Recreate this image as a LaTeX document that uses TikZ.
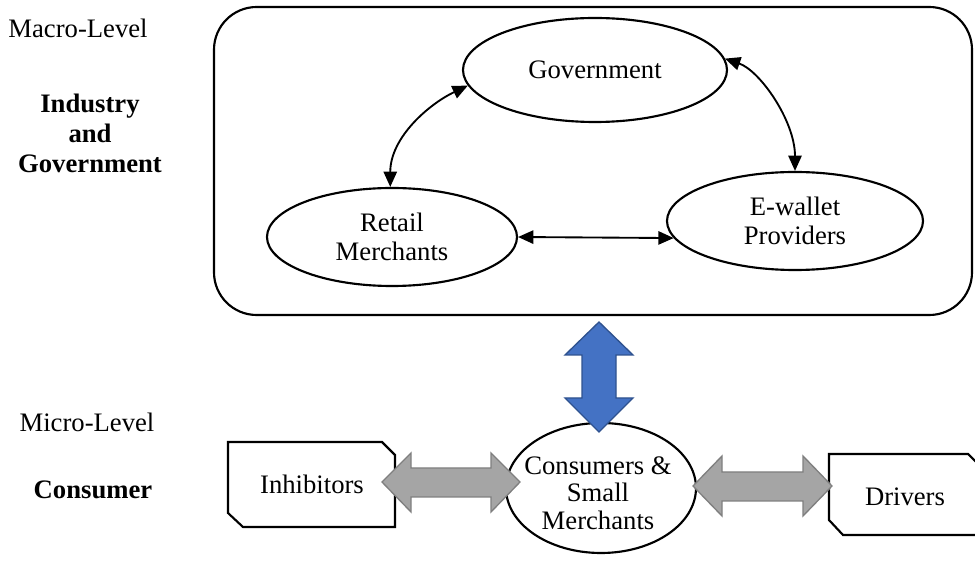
\documentclass[tikz,border=0pt]{standalone}
\usepackage{fontspec}
\setmainfont{Liberation Serif}
\usetikzlibrary{arrows.meta,shapes.geometric}
\definecolor{bluefill}{HTML}{4472C4}
\definecolor{blueline}{HTML}{2F528F}
\definecolor{grayfill}{HTML}{A5A5A5}
\definecolor{grayline}{HTML}{7F7F7F}
\begin{document}
\begin{tikzpicture}[x=0.75pt,y=-0.75pt,
  every node/.style={font=\fontsize{20}{22}\selectfont, align=center, inner sep=0pt},
  ell/.style={ellipse, draw, line width=1.6pt},
  link/.style={line width=1.4pt, {Triangle[length=11.5pt,width=10pt]}-{Triangle[length=11.5pt,width=10pt]}},
  bigblue/.style={fill=bluefill, draw=blueline, line width=1pt, line join=miter},
  biggray/.style={fill=grayfill, draw=grayline, line width=1pt, line join=miter},
  tagbox/.style={draw, line width=1.6pt, line join=miter, fill=white},
  lbl/.style={font=\fontsize{20}{22.5}\selectfont},
  blbl/.style={font=\fontsize{20}{22.5}\selectfont\bfseries}]
\useasboundingbox (0,0) rectangle (975,566);
\clip (0,0) rectangle (975,566);

% macro-level frame
\draw[line width=1.6pt, rounded corners=32pt] (214,7) rectangle (972,315);

% left labels
\node[lbl] (macro) at (78,28) {Macro-Level};
\node[blbl] (ind) at (90,133) {Industry\\and\\Government};
\node[lbl] (micro) at (87,422) {Micro-Level};
\node[blbl] (cons) at (93,490) {Consumer};

% ellipses
\node[ell, minimum width=198pt, minimum height=78pt] (gov) at (595,70) {Government};
\node[ell, minimum width=187.5pt, minimum height=73.5pt] (retail) at (392,237) {Retail\\Merchants};
\node[ell, minimum width=192pt, minimum height=73.5pt] (ewallet) at (795,221) {E-wallet\\Providers};

% links
\draw[link] (retail.92) .. controls +(0,-50) and +(-38,18) .. (gov.187);
\draw[link] (gov.5) .. controls +(35,12) and +(0,-50) .. (ewallet.90);
\draw[link] (retail.east) -- (ewallet.188);

% consumers ellipse
\node[ell, minimum width=142.5pt, minimum height=97.5pt] (consumers) at (601,488) {};
\node[font=\fontsize{20}{20.5}\selectfont] (constxt) at (598,493) {Consumers \&\\Small\\Merchants};

% blue double arrow
\draw[bigblue] (599,322) -- (633,355) -- (616,355) -- (616,398) -- (633,398) -- (599,432)
  -- (565,398) -- (582,398) -- (582,355) -- (565,355) -- cycle;

% inhibitors box
\draw[tagbox] (228,442) -- (382,442) -- (395,455) -- (395,527) -- (243,527) -- (228,513) -- cycle;
\node (inh) at (312,484) {Inhibitors};

% drivers box
\draw[tagbox] (829,454) -- (968,454) -- (981,467) -- (981,535) -- (843,535) -- (829,520) -- cycle;
\node (drv) at (905,497) {Drivers};

% gray double arrows
\draw[biggray] (382,482) -- (411,453) -- (411,468) -- (491,468) -- (491,453) -- (520,482)
  -- (491,512) -- (491,497) -- (411,497) -- (411,512) -- cycle;
\draw[biggray] (693,486) -- (722,456) -- (722,472) -- (803,472) -- (803,456) -- (832,486)
  -- (803,516) -- (803,501) -- (722,501) -- (722,516) -- cycle;
\end{tikzpicture}
\end{document}
